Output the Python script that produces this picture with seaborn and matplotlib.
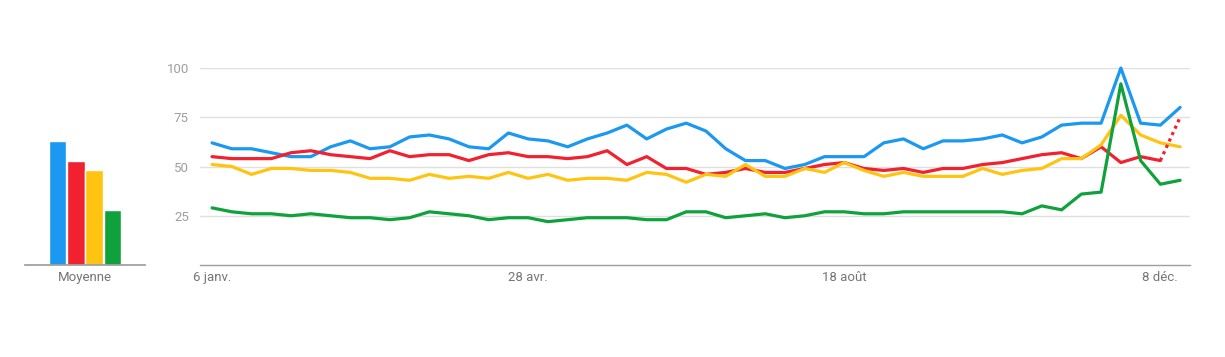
import matplotlib
matplotlib.use("Agg")
import matplotlib.pyplot as plt
import seaborn as sns
import pandas as pd

# weekly interest values (0-100), 6 janv. -> 15 déc.
blue = [62, 59, 59, 57, 55, 55, 60, 63, 59, 60, 65, 66, 64, 60, 59, 67,
        64, 63, 60, 64, 67, 71, 64, 69, 72, 68, 59, 53, 53, 49, 51, 55, 55,
        55, 62, 64, 59, 63, 63, 64, 66, 62, 65, 71, 72, 72, 100, 72, 71, 80]
red = [55, 54, 54, 54, 57, 58, 56, 55, 54, 58, 55, 56, 56, 53, 56, 57,
       55, 55, 54, 55, 58, 51, 55, 49, 49, 46, 47, 49, 47, 47, 49, 51, 52,
       49, 48, 49, 47, 49, 49, 51, 52, 54, 56, 57, 54, 60, 52, 55, 53, 75]
yellow = [51, 50, 46, 49, 49, 48, 48, 47, 44, 44, 43, 46, 44, 45, 44, 47,
          44, 46, 43, 44, 44, 43, 47, 46, 42, 46, 45, 51, 45, 45, 49, 47, 52,
          48, 45, 47, 45, 45, 45, 49, 46, 48, 49, 54, 54, 61, 76, 66, 62, 60]
green = [29, 27, 26, 26, 25, 26, 25, 24, 24, 23, 24, 27, 26, 25, 23, 24,
         24, 22, 23, 24, 24, 24, 23, 23, 27, 27, 24, 25, 26, 24, 25, 27, 27,
         26, 26, 27, 27, 27, 27, 27, 27, 26, 30, 28, 36, 37, 92, 53, 41, 43]

series_names = ["terme 1", "terme 2", "terme 3", "terme 4"]
averages = [63, 53, 48, 28]
colors = ["#1a98f2", "#f2212f", "#ffc411", "#0fa23c"]

tick_weeks = [0, 16, 32, 48]
tick_labels = ["6 janv.", "28 avr.", "18 août", "8 déc."]
y_ticks = [25, 50, 75, 100]

sns.set_theme(style="white")
plt.rcParams["font.family"] = ["Roboto", "DejaVu Sans"]

weeks = list(range(len(blue)))
frames = []
for name, vals in zip(series_names, [blue, red, yellow, green]):
    frames.append(pd.DataFrame({"week": weeks, "value": vals, "serie": name}))
df = pd.concat(frames, ignore_index=True)

# last week of the red series is partial -> dotted
last = len(weeks) - 1
solid = df[~((df.serie == series_names[1]) & (df.week == last))]
partial = df[(df.serie == series_names[1]) & (df.week >= last - 1)]

fig = plt.figure(figsize=(12.25, 3.57), dpi=100)
W, H = 1225, 357
bottom = (H - 265) / H
height = (265 - 68) / H

# main line chart
ax = fig.add_axes([200 / W, bottom, 990 / W, height])
sns.lineplot(data=solid, x="week", y="value", hue="serie",
             palette=dict(zip(series_names, colors)), linewidth=2.3,
             legend=False, ax=ax, clip_on=False)
sns.lineplot(data=partial, x="week", y="value", color=colors[1],
             linewidth=2.3, linestyle=(0, (1, 1.2)), legend=False, ax=ax,
             clip_on=False)
ax.set_xlim(-0.61, 49.5)
ax.set_ylim(0, 100)
ax.set_yticks(y_ticks)
ax.set_yticklabels([str(v) for v in y_ticks], color="#9e9e9e", fontsize=9.5)
ax.set_xticks(tick_weeks)
ax.set_xticklabels(tick_labels, color="#757575", fontsize=9.5)
ax.tick_params(axis="both", length=0)
ax.tick_params(axis="y", pad=8)
ax.tick_params(axis="x", pad=4)
ax.yaxis.grid(True, color="#e0e0e0", linewidth=1)
ax.set_axisbelow(True)
for s in ["top", "right", "left"]:
    ax.spines[s].set_visible(False)
ax.spines["bottom"].set_color("#9e9e9e")
ax.spines["bottom"].set_linewidth(1)
ax.set_xlabel("")
ax.set_ylabel("")

# average bars
bx = fig.add_axes([25 / W, bottom, 120 / W, height])
sns.barplot(x=series_names, y=averages, hue=series_names,
            palette=colors, width=0.95, legend=False, ax=bx,
            saturation=1)
bx.set_xlim(-1.757, 4.757)
bx.set_ylim(0, 100)
bx.set_yticks([])
bx.set_xticks([1.5])
bx.set_xticklabels(["Moyenne"], color="#757575", fontsize=9.5)
bx.tick_params(axis="x", length=0, pad=4)
for s in ["top", "right", "left"]:
    bx.spines[s].set_visible(False)
bx.spines["bottom"].set_color("#9e9e9e")
bx.set_xlabel("")
bx.set_ylabel("")

fig.savefig("out.png", dpi=100, facecolor="white")
